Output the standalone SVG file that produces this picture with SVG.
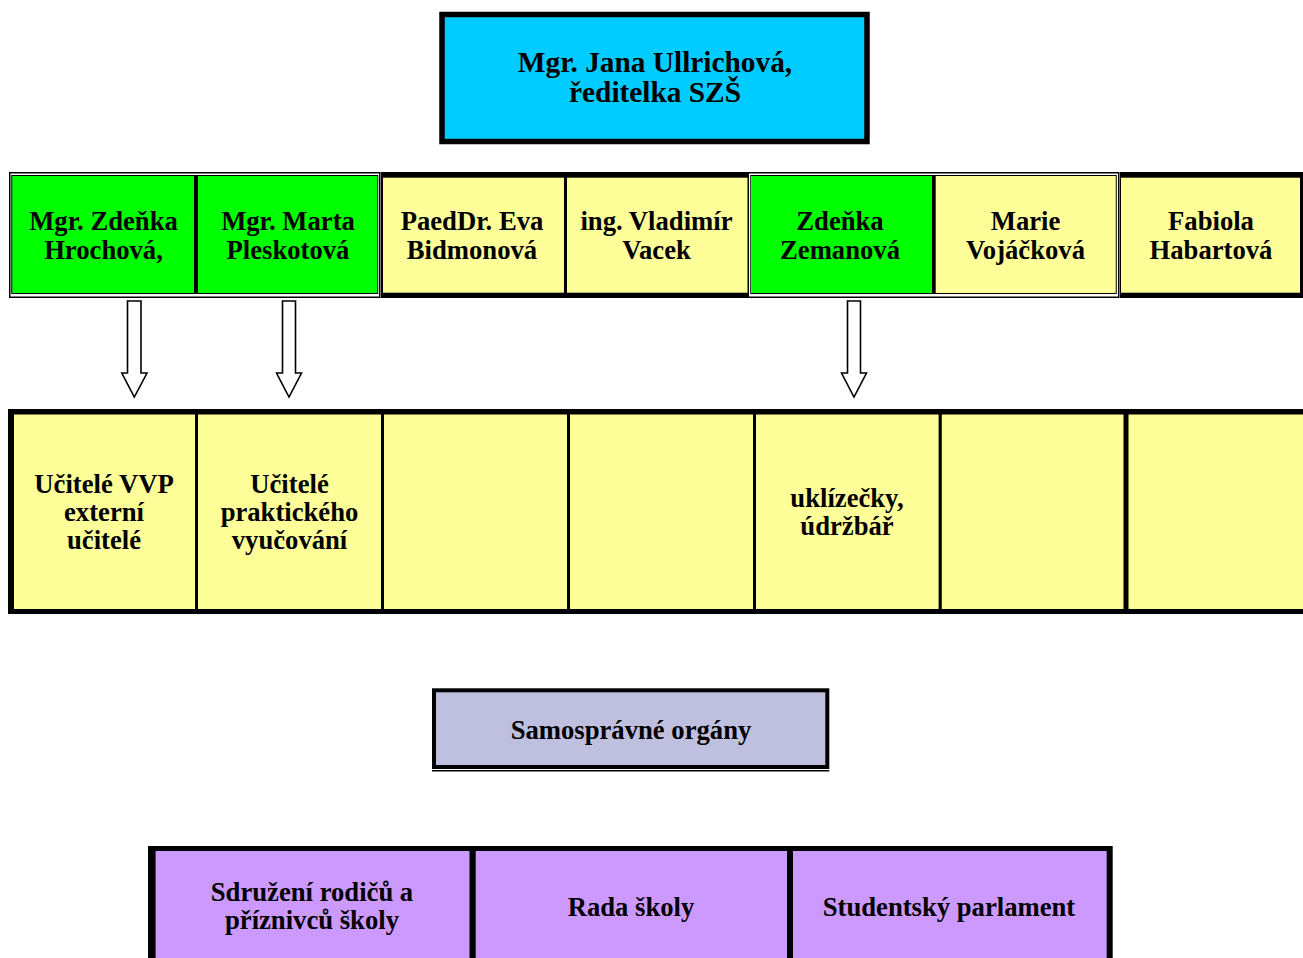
<svg xmlns="http://www.w3.org/2000/svg" width="1303" height="958" viewBox="0 0 1303 958">
<style>
text{font-family:"Liberation Serif","Times New Roman",serif;font-weight:bold;font-size:26.67px;fill:#000;text-anchor:middle}
.big{font-size:29.33px}
.blk{fill:#000}
.grn{fill:#00FF00}
.yel{fill:#FFFF99}
.pur{fill:#CC99FF}
.arrow{fill:#fff;stroke:#000;stroke-width:1.6;stroke-linejoin:miter}
</style>
<rect width="1303" height="958" fill="#fff"/>

<g id="director">
<rect x="442" y="14.5" width="425" height="127" fill="#00CCFF" stroke="#000" stroke-width="5.5"/>
<text class="big" x="655" y="72">Mgr. Jana Ullrichová,</text>
<text class="big" x="655" y="102">ředitelka SZŠ</text>
</g>

<!-- row 2 -->
<g id="group-left">
<rect x="9.75" y="172.75" width="370" height="124.5" fill="#fff" stroke="#000" stroke-width="1.5"/>
<rect x="11.75" y="175.5" width="366" height="118" fill="#00FF00" stroke="#000" stroke-width="1"/>
<rect x="194" y="176" width="4" height="117" class="blk"/>
</g>
<g id="n-hrochova">
<text x="103.5" y="230">Mgr. Zdeňka</text>
<text x="103.5" y="259">Hrochová,</text>
</g>
<g id="n-pleskotova">
<text x="288" y="230">Mgr. Marta</text>
<text x="288" y="259">Pleskotová</text>
</g>

<g id="group-mid">
<rect x="381" y="172" width="370" height="126" class="blk"/>
<rect x="383" y="177.7" width="181" height="115" class="yel"/>
<rect x="567" y="177.7" width="181" height="115" class="yel"/>
</g>
<g id="n-bidmonova">
<text x="472" y="230">PaedDr. Eva</text>
<text x="472" y="259">Bidmonová</text>
</g>
<g id="n-vacek">
<text x="656.5" y="230">ing. Vladimír</text>
<text x="656.5" y="259">Vacek</text>
</g>

<g id="group-right">
<rect x="748.25" y="172.75" width="370.5" height="124.5" fill="#fff" stroke="#000" stroke-width="1.5"/>
<rect x="750.75" y="175.5" width="365.5" height="118" fill="#FFFF99" stroke="#000" stroke-width="1"/>
<rect x="751.25" y="176" width="181" height="117" class="grn"/>
<rect x="932" y="176" width="3.7" height="117" class="blk"/>
</g>
<g id="n-zemanova">
<text x="840" y="230">Zdeňka</text>
<text x="840" y="259">Zemanová</text>
</g>
<g id="n-vojackova">
<text x="1025.5" y="230">Marie</text>
<text x="1025.5" y="259">Vojáčková</text>
</g>

<g id="n-habartova">
<rect x="1120" y="172" width="183" height="126" class="blk"/>
<rect x="1121" y="177.7" width="179" height="115" class="yel"/>
<text x="1211" y="230">Fabiola</text>
<text x="1211" y="259">Habartová</text>
</g>

<!-- row 3 -->
<g id="row3">
<rect x="8" y="409" width="1300" height="205" class="blk"/>
<rect x="14" y="414.5" width="181" height="194.5" class="yel"/>
<rect x="198" y="414.5" width="183" height="194.5" class="yel"/>
<rect x="384" y="414.5" width="183" height="194.5" class="yel"/>
<rect x="570" y="414.5" width="183" height="194.5" class="yel"/>
<rect x="756" y="414.5" width="182.6" height="194.5" class="yel"/>
<rect x="941.8" y="414.5" width="181.7" height="194.5" class="yel"/>
<rect x="1128.5" y="414.5" width="175" height="194.5" class="yel"/>
</g>
<g id="n-ucitele-vvp">
<text x="104" y="493">Učitelé VVP</text>
<text x="104" y="521">externí</text>
<text x="104" y="549">učitelé</text>
</g>
<g id="n-ucitele-pv">
<text x="289.5" y="493">Učitelé</text>
<text x="289.5" y="521">praktického</text>
<text x="289.5" y="549">vyučování</text>
</g>
<g id="n-uklizecky">
<text x="847" y="507">uklízečky,</text>
<text x="847" y="535">údržbář</text>
</g>

<g id="connectors">
<path class="arrow" d="M127.5,301 H141 V373 H147 L134.3,397 L121.8,373 H127.5 Z"/>
<path class="arrow" d="M282.5,301 H295.5 V373 H301.5 L289,397 L276.5,373 H282.5 Z"/>
<path class="arrow" d="M847.5,301 H860.5 V373 H866.5 L854,397 L841.5,373 H847.5 Z"/>
</g>

<g id="n-samospravne">
<rect x="434" y="690.3" width="393.3" height="76.7" fill="#BFBFDF" stroke="#000" stroke-width="4"/>
<line x1="432" y1="770.7" x2="829.3" y2="770.7" stroke="#000" stroke-width="1.5"/>
<text x="631" y="739">Samosprávné orgány</text>
</g>

<g id="row4">
<rect x="148" y="846" width="964.7" height="120" class="blk"/>
<rect x="155.6" y="851" width="313.9" height="110" class="pur"/>
<rect x="475.7" y="851" width="311.3" height="110" class="pur"/>
<rect x="793" y="851" width="313.7" height="110" class="pur"/>
</g>
<g id="n-sdruzeni">
<text x="312" y="901">Sdružení rodičů a</text>
<text x="312" y="929">příznivců školy</text>
</g>
<g id="n-rada">
<text x="631" y="916">Rada školy</text>
</g>
<g id="n-parlament">
<text x="949" y="916">Studentský parlament</text>
</g>
</svg>
